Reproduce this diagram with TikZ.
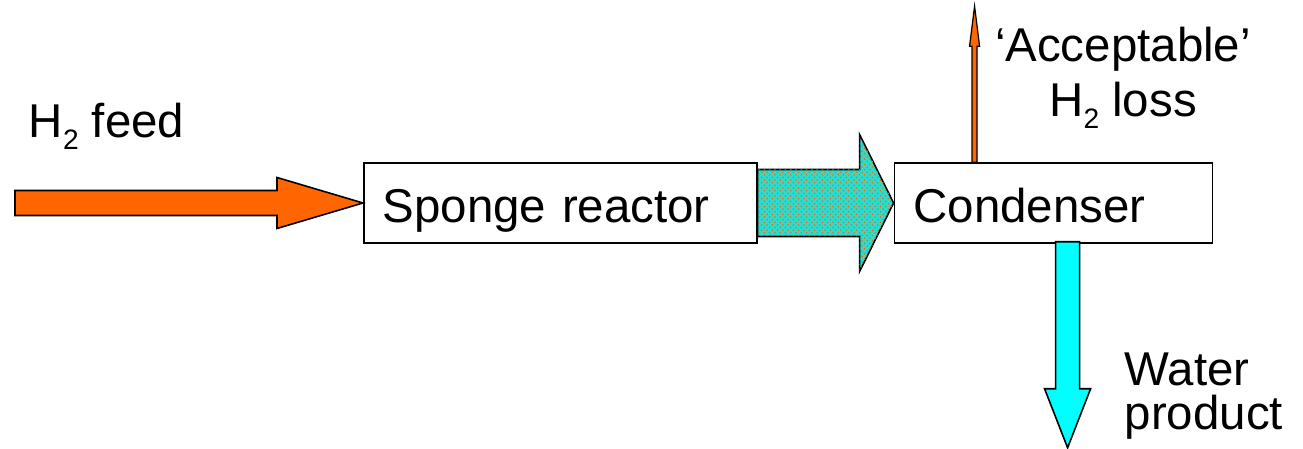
\documentclass[tikz,border=0pt]{standalone}
\usepackage{fontspec}
\setmainfont{Liberation Sans}
\usepackage{xcolor}
\usepackage{tikz}
\usetikzlibrary{positioning,calc,patterns}

\definecolor{feedorange}{RGB}{255,102,0}
\definecolor{watercyan}{RGB}{0,255,255}
\definecolor{gasteal}{RGB}{40,222,210}

\newcommand{\htwo}{H\raisebox{-0.24em}{\fontsize{16}{16}\selectfont 2}}

\begin{document}
\begin{tikzpicture}[line width=0.9pt,
                    every node/.style={font=\fontsize{27}{25.6}\selectfont},
                    unit/.style={draw, rectangle, minimum height=1.6cm,
                    inner xsep=0.38cm, inner ysep=0.05cm, text height=1.15cm,
                    text depth=0.35cm, align=left},
                    flow/.style={draw=black, line join=miter}]
                      \useasboundingbox (0,0) rectangle (26.06,8.98);
                      \node[unit, text width=7.1cm, anchor=west] (reactor) 
                      at (7.26,4.92) {Sponge reactor};
                      \node[unit, text width=5.6cm, right=2.72cm of reactor] 
                      (condenser) {Condenser};
                      % feed into the reactor
                      \filldraw[flow, fill=feedorange] (reactor.west) 
                      -- ++(-1.72,0.51) -- ++(0,-0.26) -- ++(-5.24,0) 
                      -- ++(0,-0.5) -- ++(5.24,0) -- ++(0,-0.26) -- cycle;
                      \filldraw[flow, fill=gasteal, postaction={pattern=crosshatch dots, 
                      pattern color=feedorange}] 
                      ($(reactor.east)+(0,0.67)$) -- ++(2.04,0) -- ++(0,0.7) 
                      -- (condenser.west) -- ++(-0.68,-1.37) -- ++(0,0.7) 
                      -- ++(-2.04,0) -- cycle;
                      % outlets of the condenser
                      \coordinate (lossfoot) at ($(condenser.north west)+(1.62,0)$);
                      \coordinate (waterfoot) at ($(condenser.south west)+(3.48,0)$);
                      \filldraw[flow, line width=0.7pt, fill=feedorange] 
                      ($(lossfoot)+(-0.05,0)$) -- ++(0,2.32) -- ++(-0.05,0) 
                      -- ++(0.1,0.8) -- ++(0.1,-0.8) -- ++(-0.05,0) 
                      -- ++(0,-2.32) -- cycle;
                      \filldraw[flow, fill=watercyan] 
                      ($(waterfoot)+(-0.24,0.04)$) -- ++(0,-2.94) -- ++(-0.22,0) 
                      -- ++(0.46,-1.18) -- ++(0.46,1.18) -- ++(-0.22,0) 
                      -- ++(0,2.94) -- cycle;
                      \node[anchor=base west, inner sep=0] (feed) at (0.56,6.22) 
                      {\htwo{} feed};
                      \node[anchor=base, align=center, inner sep=0] (loss) 
                      at (22.46,6.64) {‘Acceptable’\\[5.7pt]\htwo{} loss};
                      \node[anchor=base west, align=left, inner sep=0] (water) 
                      at (22.48,0.38) {Water\\product};
                  \end{tikzpicture}
\end{document}
